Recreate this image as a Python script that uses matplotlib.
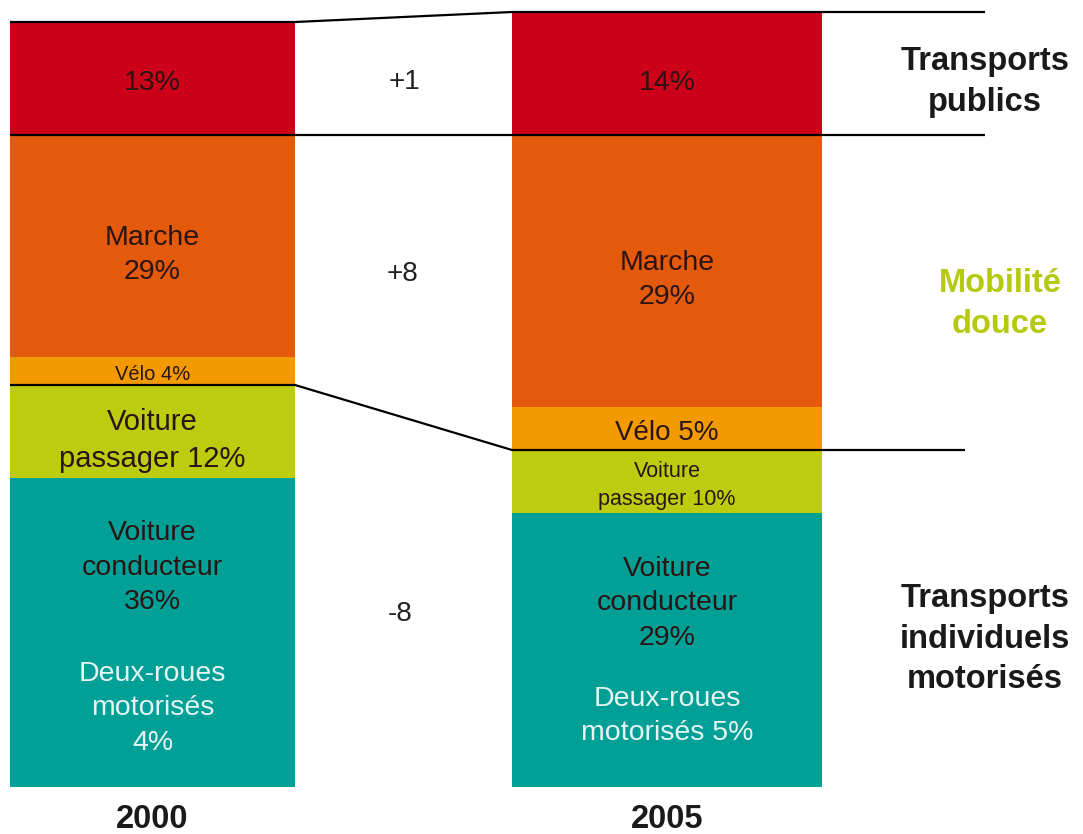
import matplotlib.pyplot as plt
import numpy as np

plt.rcParams['font.family'] = ['Liberation Sans', 'DejaVu Sans']

years = ['2000', '2005']
modes = ['Transports publics', 'Marche', 'Vélo', 'Voiture passager', 'Voiture conducteur + deux-roues']
# segment heights as drawn in the picture (bottom to top: teal, passager, velo, marche, TP)
seg_2000 = [309, 93, 28, 222, 113]
seg_2005 = [274, 63, 43, 272, 123]
colors = ['#00a096', '#bccd10', '#f39a00', '#e35a0c', '#cc0018']

labels_2000 = [None, 'Voiture\npassager 12%', 'Vélo 4%', 'Marche\n29%', '13%']
labels_2005 = [None, 'Voiture\npassager 10%', 'Vélo 5%', 'Marche\n29%', '14%']
sizes_2000 = [None, 21, 14.5, 20.5, 20.5]
sizes_2005 = [None, 15.5, 20, 20.5, 20.5]
teal_2000 = ['Voiture\nconducteur\n36%', 'Deux-roues\nmotorisés\n4%']
teal_2005 = ['Voiture\nconducteur\n29%', 'Deux-roues\nmotorisés 5%']
deltas = ['+1', '+8', '-8']
groups = ['Transports\npublics', 'Mobilité\ndouce', 'Transports\nindividuels\nmotorisés']

fig = plt.figure(figsize=(10.83, 8.34), dpi=100)
ax = fig.add_axes([0, 0, 1, 1])
ax.set_xlim(0, 1083)
ax.set_ylim(-47, 787)
ax.axis('off')

xs = [152.5, 667]
ws = [285, 310]
txt = '#2a1414'
ls = 1.42

bars = [(xs[0], ws[0], seg_2000, labels_2000, sizes_2000, teal_2000, (0.71, 0.255), [0, -9, -3, -9, -4]),
        (xs[1], ws[1], seg_2005, labels_2005, sizes_2005, teal_2005, (0.67, 0.26), [0, -4, -4, -9, -9])]
for x, w, segs, labs, szs, tl, fr, offs in bars:
    bottoms = np.concatenate([[0], np.cumsum(segs)[:-1]])
    ax.bar(x, segs, width=w, bottom=bottoms, color=colors, linewidth=0)
    for b, h, lab, s, o in zip(bottoms, segs, labs, szs, offs):
        if lab:
            ax.text(x, b + h / 2 + o, lab, ha='center', va='center', fontsize=s,
                    color=txt, linespacing=ls)
    h = segs[0]
    ax.text(x, h * fr[0], tl[0], ha='center', va='center', fontsize=20.5,
            color=txt, linespacing=ls)
    ax.text(x, h * fr[1], tl[1], ha='center', va='center', fontsize=20.5,
            color='#e6f4f2', linespacing=ls)

c0 = np.cumsum(seg_2000)
c1 = np.cumsum(seg_2005)
l0, r0 = xs[0] - ws[0] / 2, xs[0] + ws[0] / 2
l1, r1 = xs[1] - ws[1] / 2, xs[1] + ws[1] / 2
lk = dict(color='black', lw=1.6, solid_capstyle='butt')
# top line
ax.plot([l0, r0, l1, 985], [c0[4], c0[4], c1[4], c1[4]], **lk)
# public / soft boundary
ax.plot([l0, 985], [c0[3], c0[3]], **lk)
# soft / motorised boundary
ax.plot([l0, r0, l1, 965], [c0[1], c0[1], c1[1], c1[1]], **lk)

for (xd, yd), d in zip([(405, 705), (403, 513), (400, 173)], deltas):
    ax.text(xd, yd, d, ha='center', va='center', fontsize=20, color='#222222')

ax.text(985, 705, groups[0], ha='center', va='center', fontsize=23.5, fontweight='bold',
        color='#1a1a1a', linespacing=1.45)
ax.text(1000, 483, groups[1], ha='center', va='center', fontsize=23.5, fontweight='bold',
        color='#b5c90f', linespacing=1.45)
ax.text(985, 148, groups[2], ha='center', va='center', fontsize=23.5, fontweight='bold',
        color='#1a1a1a', linespacing=1.4)

for x, y in zip(xs, years):
    ax.text(x, -33, y, ha='center', va='center', fontsize=23.5, fontweight='bold',
            color='#1a1a1a')

fig.savefig('out.png', dpi=100)
